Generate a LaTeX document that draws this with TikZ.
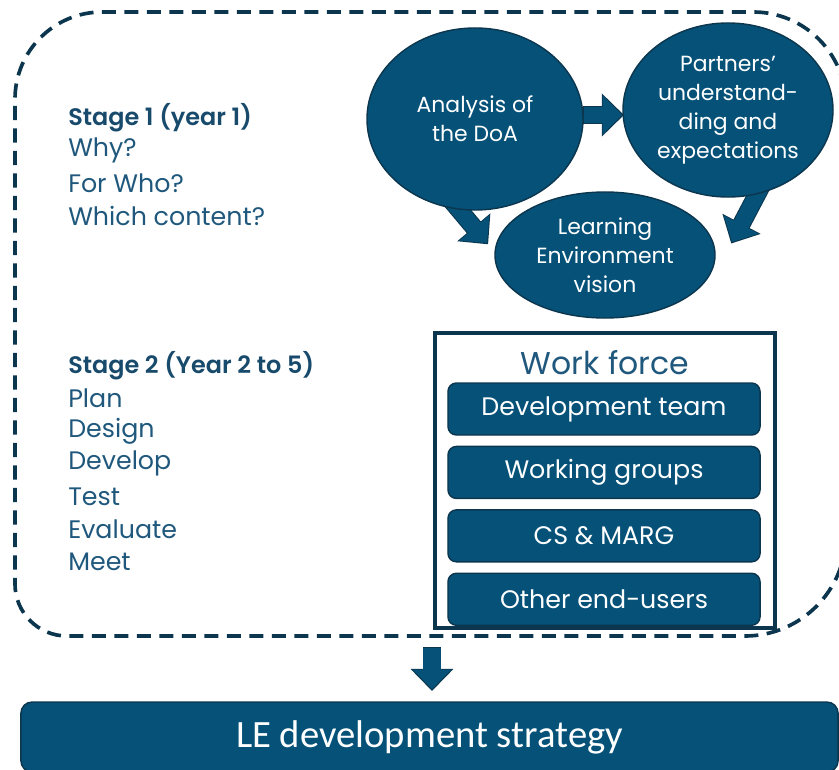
\documentclass[tikz,border=0pt]{standalone}
\usepackage{fontspec}
\setmainfont{Poppins}
\newfontfamily\semifont{Poppins SemiBold}
\newfontfamily\narrowfont{Carlito}
\usetikzlibrary{shapes.geometric,arrows.meta,positioning,calc,backgrounds}
\definecolor{lefill}{RGB}{5,81,120}
\definecolor{leline}{RGB}{12,54,78}
\definecolor{letext}{RGB}{31,88,124}
\definecolor{lehead}{RGB}{24,74,108}

\begin{document}
\begin{tikzpicture}[
  x=0.025cm, y=-0.025cm,
  node distance=0.25cm,
   bubble/.style = {ellipse, draw=leline, line width=1pt, fill=lefill,
                    text=white, align=center, inner sep=0pt,
                    font=\fontsize{15.6}{20.5}\selectfont},
   member/.style = {rectangle, rounded corners=6pt, draw=leline, line width=1pt,
                    fill=lefill, text=white, minimum width=7.8cm, minimum height=1.3cm,
                    font=\fontsize{18}{21}\selectfont},
stagehead/.style = {anchor=west, inner sep=0pt, text=lehead,
                    font=\semifont\fontsize{17}{19}\selectfont},
stageline/.style = {anchor=west, inner sep=0pt, text=letext,
                    font=\fontsize{18}{21}\selectfont},
blockarrow/.style = {draw=lefill, line width=11.5pt, -{Triangle[length=14pt,width=27pt]},
                    preaction={draw=leline, line width=13pt,
                               -{Triangle[length=15.8pt,width=29.8pt]},
                               shorten >=-1.2pt, shorten <=-0.8pt}},
  dashbox/.style = {draw=leline, line width=2.6pt, dash pattern=on 10pt off 6pt},
                    ]
\useasboundingbox (0,0) rectangle (839,769);
\clip (0,0) rectangle (839,769);
% dashed frame round both stages
\draw[dashbox] (15,300) [rounded corners=62pt] -- (15,12) [rounded corners=66pt] -- (846,12)
      [rounded corners=72pt] -- (846,636) [rounded corners=37pt] -- (15,636) -- (15,300);
% stage 1
\node[stagehead] (s1) at (68,118) {Stage 1 (year 1)};
\foreach \t [count=\i] in {Why?,For Who?,Which content?}% <-- questions
    \node[stageline] (s1-\i) at (68,118+32.5*\i) {\t};
% stage 2
\node[stagehead] (s2) at (68,366) {Stage 2 (Year 2 to 5)};
\foreach \t [count=\i] in {Plan,Design,Develop,Test,Evaluate,Meet}% <-- steps
    \node[stageline] (s2-\i) at (68,366+32.6*\i) {\t};
% bubbles
\node[bubble, minimum width=5.4cm, minimum height=4.55cm] (doa) at (475,119)
     {Analysis of\\the DoA};
\node[bubble, minimum width=5.25cm, minimum height=4.35cm] (partners) at (728,110)
     {Partners’\\understand-\\ding and\\expectations};
\node[bubble, minimum width=5.5cm, minimum height=3.15cm] (vision) at (605,255)
     {Learning\\Environment\\vision};
\coordinate (mid) at (600,115);
\coordinate (t1) at (487,243);
\coordinate (t2) at (732,242);
\begin{scope}[on background layer]
\draw[blockarrow] (doa.east |- mid) -- (partners.west |- mid);
\draw[blockarrow] ($(doa.-100)!-10pt!(t1)$) -- (t1);
\draw[blockarrow] ($(partners.-71)!-10pt!(t2)$) -- (t2);
\end{scope}
% work force
\node[draw=leline, line width=2.6pt, minimum width=8.5cm, minimum height=7.375cm] (wf) at (605,480.5) {};
\node[text=letext, font=\fontsize{22.4}{26}\selectfont] (wftitle) at (605,363) {Work force};
\node[member] (dev) at (604,409) {Development team};
\node[member, below=of dev] (groups) {Working groups};
\node[member, below=of groups] (marg) {CS \& MARG};
\node[member, below=of marg] (users) {Other end-users};
% result
\node[member, minimum width=20.425cm, minimum height=1.75cm, rounded corners=8pt,
      font=\narrowfont\fontsize{27.5}{32}\selectfont] (strategy) at (429.5,737)
     {LE development strategy};
\coordinate (boxbottom) at (432,648);
\draw[blockarrow, line width=13pt] (boxbottom) -- ($(strategy.north -| boxbottom)+(0,-12)$);
\end{tikzpicture}
\end{document}
